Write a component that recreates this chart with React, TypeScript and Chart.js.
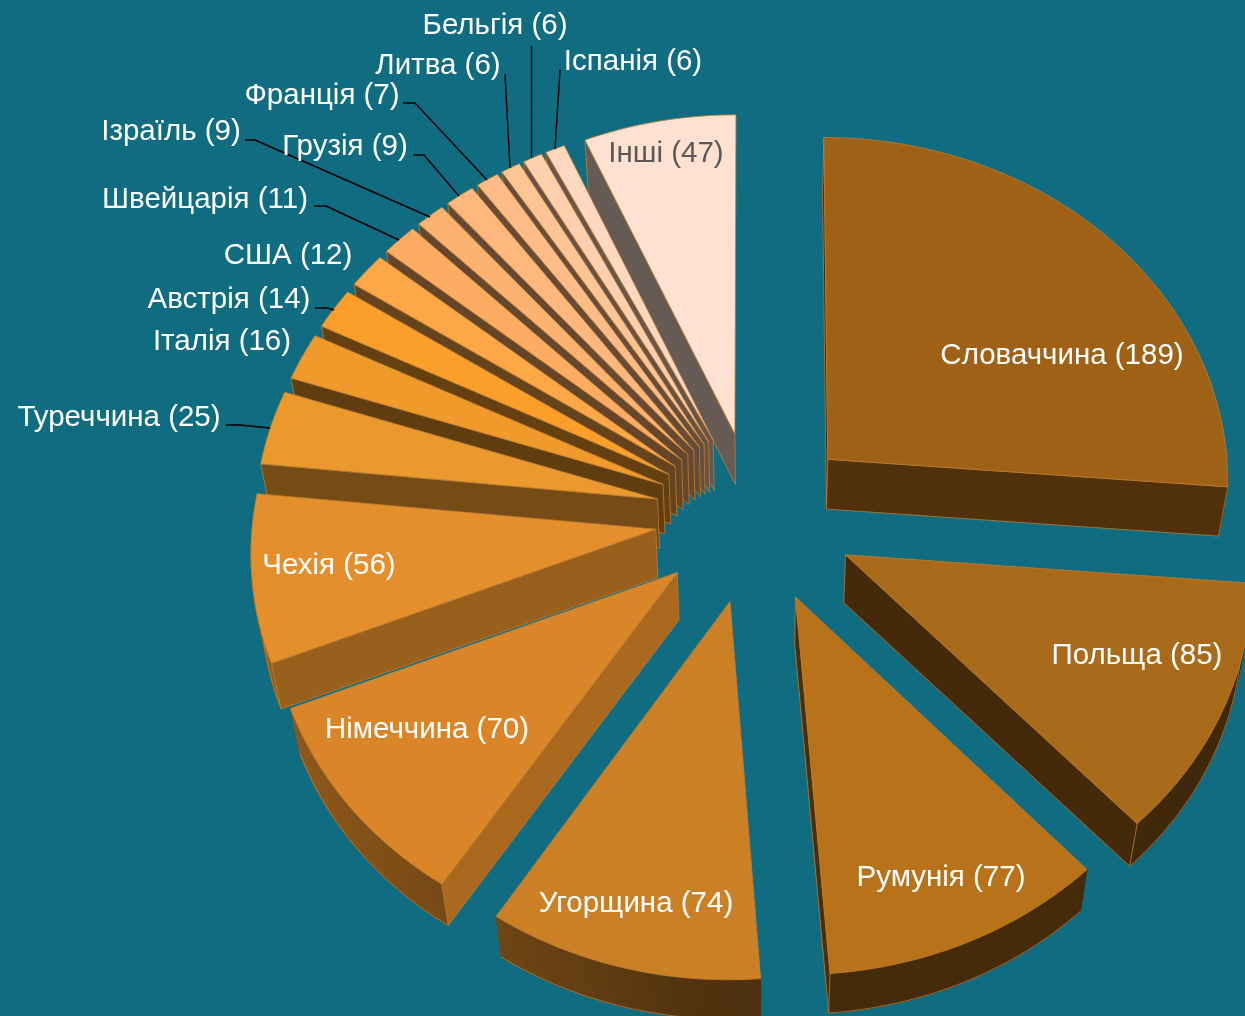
import React, { useEffect, useRef } from "react";
import { Chart, registerables } from "chart.js";

Chart.register(...registerables);

const categories = ["Словаччина","Польща","Румунія","Угорщина","Німеччина","Чехія","Туреччина","Італія","Австрія","США","Швейцарія","Ізраїль","Грузія","Франція","Литва","Бельгія","Іспанія","Інші"];
const values = [189,85,77,74,70,56,25,16,14,12,11,9,9,7,6,6,6,47];
const colors = ["#9F6115","#A96A1A","#B87219","#CC8025","#DA8628","#E48F2B","#EB992D","#F09A2C","#FC9F2A","#FDA746","#FDAC62","#FDB271","#FEB77D","#FEBC88","#FDC596","#FFD0AE","#FFD9BF","#FFE1D2"];
const labelCenters: [number, number][] = [[1062,356],[1137,656],[941,878],[636,904],[427,730],[329,566],[119,418],[222,342],[229,300],[288,256],[205,200],[171,132],[345,147],[322,96],[438,66],[495,26],[633,62],[666,154]];
const leaders: [number, number][][] = [
  [[226,425],[240,425],[270,428]],
  [[315,308],[327,308],[334,310]],
  [[314,206],[326,206],[399,240]],
  [[245,140],[255,140],[430,217]],
  [[413,155],[424,155],[459,196]],
  [[403,103],[415,103],[487,180]],
  [[505,74],[510,168]],
  [[531.5,46],[531.5,158]],
  [[560,70],[555,149]],
];

const BG = "#106D81";
const CX = 755, CY = 517, TILT = 0.86, PERSP = 1.42e-4;
const VX = 760, VY = 2950, DEPTH = 0.98;
const EDGE = "rgba(196,125,50,0.75)";

const project = (u: number, v: number): [number, number] => {
  const f = 1 / (1 - PERSP * v);
  return [CX + u * f, CY + TILT * v * f];
};
const drop = (p: [number, number]): [number, number] => [VX + DEPTH * (p[0] - VX), VY + DEPTH * (p[1] - VY)];

const shade = (hex: string, k: number) => {
  const n = parseInt(hex.slice(1), 16);
  const c = [(n >> 16) & 255, (n >> 8) & 255, n & 255].map((x) => Math.round(x * k));
  return `rgb(${c[0]},${c[1]},${c[2]})`;
};
const poly = (ctx: CanvasRenderingContext2D, pts: [number, number][]) => {
  ctx.beginPath();
  pts.forEach((p, i) => (i ? ctx.lineTo(p[0], p[1]) : ctx.moveTo(p[0], p[1])));
  ctx.closePath();
};
const sideK = (nu: number) => {
  if (nu < -0.3) return 0.4;
  if (nu < -0.1) return 0.4 + (nu + 0.3) * 0.5;
  return Math.min(0.78, 0.5 + (nu + 0.1) * 0.36);
};
const rimK = (nu: number) => (nu > 0 ? 0.38 : 0.38 - 0.3 * nu);

const pie3d = {
  id: "pie3d",
  beforeDatasetsDraw(chart: any) {
    const ctx: CanvasRenderingContext2D = chart.ctx;
    const arcs = chart.getDatasetMeta(0).data;
    const n = arcs.length;
    const order: number[] = [];
    for (let i = n - 1; i >= 5; i--) order.push(i);
    for (let i = 0; i < 5; i++) order.push(i);
    ctx.save();
    ctx.lineJoin = "round";
    for (const i of order) {
      const el = arcs[i];
      const { startAngle: a0, endAngle: a1, outerRadius: r } = el.getProps(["startAngle", "endAngle", "outerRadius"], true);
      const off = (el.options.offset || 0) / 4;
      const mid = (a0 + a1) / 2;
      const ox = Math.cos(mid) * off, oy = Math.sin(mid) * off;
      const base = el.options.backgroundColor as string;
      const steps = Math.max(2, Math.ceil((a1 - a0) / (Math.PI / 180)));
      const rim: [number, number][] = [];
      const angs: number[] = [];
      for (let s = 0; s <= steps; s++) {
        const a = a0 + ((a1 - a0) * s) / steps;
        angs.push(a);
        rim.push(project(ox + r * Math.cos(a), oy + r * Math.sin(a)));
      }
      const apex = project(ox, oy);
      const apexB = drop(apex);
      ctx.lineWidth = 1;
      // outer rim, one strip per step, only where it faces the viewer
      for (let s = 0; s < steps; s++) {
        const m = (angs[s] + angs[s + 1]) / 2;
        if (Math.sin(m) <= 0) continue;
        const c = shade(base, rimK(Math.cos(m)));
        poly(ctx, [rim[s], rim[s + 1], drop(rim[s + 1]), drop(rim[s])]);
        ctx.fillStyle = c;
        ctx.strokeStyle = c;
        ctx.fill();
        ctx.stroke();
      }
      ctx.beginPath();
      let pen = false;
      rim.forEach((p, k) => {
        if (Math.sin(angs[k]) <= 0) return;
        const q = drop(p);
        pen ? ctx.lineTo(q[0], q[1]) : ctx.moveTo(q[0], q[1]);
        pen = true;
      });
      ctx.strokeStyle = EDGE;
      ctx.stroke();
      // radial side faces, only those facing the viewer
      const face = (p: [number, number], ang: number, sign: number) => {
        const na = ang + (sign * Math.PI) / 2;
        if (Math.sin(na) <= (sign < 0 ? -0.02 : 0.001)) return;
        poly(ctx, [apex, p, drop(p), apexB]);
        ctx.fillStyle = shade(base, sideK(Math.cos(na)));
        ctx.fill();
        ctx.strokeStyle = EDGE;
        ctx.stroke();
      };
      face(rim[0], a0, -1);
      face(rim[steps], a1, 1);
      // top face
      poly(ctx, [apex, ...rim]);
      ctx.fillStyle = base;
      ctx.fill();
      ctx.strokeStyle = EDGE;
      ctx.stroke();
    }
    // leader lines
    ctx.strokeStyle = "#000";
    ctx.lineWidth = 1.4;
    for (const l of leaders) {
      ctx.beginPath();
      l.forEach((p, k) => (k ? ctx.lineTo(p[0], p[1]) : ctx.moveTo(p[0], p[1])));
      ctx.stroke();
    }
    // labels
    ctx.font = '29.5px "Liberation Sans"';
    ctx.textAlign = "center";
    ctx.textBaseline = "middle";
    categories.forEach((c, i) => {
      ctx.fillStyle = i === n - 1 ? "#595959" : "#FFFFFF";
      ctx.fillText(`${c} (${values[i]})`, labelCenters[i][0], labelCenters[i][1]);
    });
    ctx.restore();
    return false;
  },
};

export default function App() {
  const ref = useRef<HTMLCanvasElement>(null);
  useEffect(() => {
    const chart = new Chart(ref.current!, {
      type: "pie",
      data: {
        labels: categories,
        datasets: [{ data: values, backgroundColor: colors, offset: 400, borderWidth: 0 }],
      },
      options: {
        animation: false,
        responsive: false,
        devicePixelRatio: 1,
        radius: 403,
        layout: { padding: 0 },
        plugins: { legend: { display: false }, tooltip: { enabled: false } },
      } as any,
      plugins: [pie3d as any],
    });
    return () => chart.destroy();
  }, []);
  return (
    <div style={{ position: "fixed", inset: 0, background: BG, overflow: "hidden" }}>
      <canvas ref={ref} width={1245} height={1016} style={{ display: "block" }} />
    </div>
  );
}
